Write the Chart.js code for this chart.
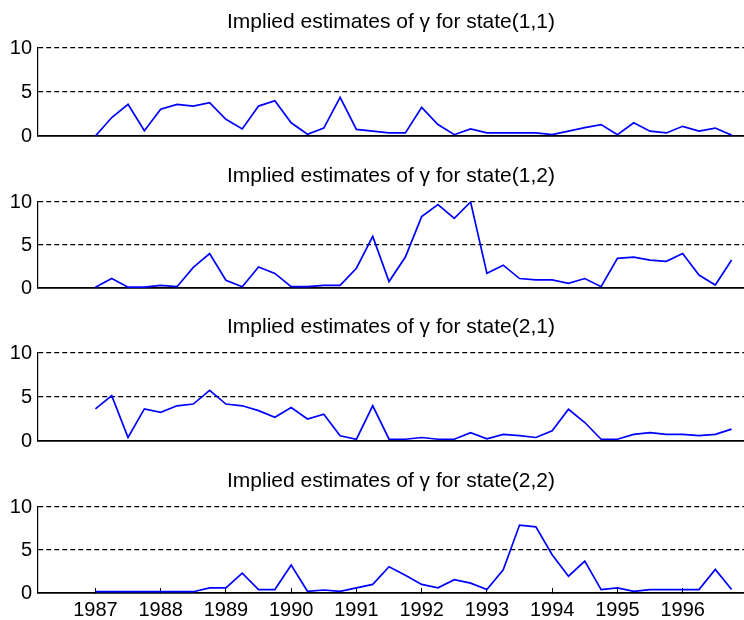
<!DOCTYPE html>
<html>
<head>
<meta charset="utf-8">
<script src="https://cdn.jsdelivr.net/npm/chart.js@4"></script>
<style>
  html, body { margin: 0; padding: 0; background: #fff; }
  #wrap { position: relative; width: 744px; height: 620px; overflow: hidden; }
  .panel { position: absolute; left: 0; width: 744px; }
</style>
</head>
<body>
<div id="wrap">
  <div class="panel" style="top:0px;height:154px"><canvas id="c11"></canvas></div>
  <div class="panel" style="top:154px;height:152px"><canvas id="c12"></canvas></div>
  <div class="panel" style="top:305px;height:154px"><canvas id="c21"></canvas></div>
  <div class="panel" style="top:459px;height:161px"><canvas id="c22"></canvas></div>
</div>
<script>
// quarterly observations, 1987Q1 .. 1996Q4
const quarters = [];
for (let i = 0; i < 40; i++) quarters.push(1987 + i * 0.25);

const yearTicks = [1987, 1988, 1989, 1990, 1991, 1992, 1993, 1994, 1995, 1996];
const yTicks = [0, 5, 10];
const titles = ['state(1,1)', 'state(1,2)', 'state(2,1)', 'state(2,2)'];

const gamma11 = [0, 2.1, 3.6, 0.6, 3.05, 3.6, 3.4, 3.8, 1.9, 0.8,
  3.4, 4.0, 1.5, 0.2, 0.9, 4.4, 0.75, 0.55, 0.35, 0.35,
  3.25, 1.3, 0.15, 0.8, 0.35, 0.35, 0.35, 0.35, 0.15, 0.55,
  0.95, 1.3, 0.15, 1.5, 0.55, 0.35, 1.1, 0.55, 0.9, 0.1];
const gamma12 = [0.1, 1.1, 0.1, 0.1, 0.3, 0.15, 2.4, 4.0, 0.9, 0.15,
  2.45, 1.7, 0.15, 0.15, 0.3, 0.3, 2.3, 6.0, 0.75, 3.6,
  8.3, 9.7, 8.1, 10.0, 1.7, 2.65, 1.1, 0.95, 0.95, 0.55,
  1.1, 0.15, 3.45, 3.6, 3.25, 3.1, 4.0, 1.5, 0.35, 3.25];
const gamma21 = [3.65, 5.15, 0.4, 3.65, 3.25, 4.0, 4.2, 5.75, 4.2, 4.0,
  3.45, 2.7, 3.8, 2.5, 3.05, 0.6, 0.2, 4.0, 0.2, 0.2,
  0.4, 0.2, 0.2, 0.95, 0.25, 0.75, 0.6, 0.4, 1.15, 3.6,
  2.1, 0.2, 0.2, 0.75, 0.95, 0.75, 0.75, 0.6, 0.75, 1.35];
const gamma22 = [0.15, 0.15, 0.15, 0.15, 0.15, 0.15, 0.15, 0.6, 0.6, 2.3,
  0.4, 0.4, 3.25, 0.2, 0.35, 0.2, 0.6, 1.0, 3.05, 2.05,
  1.0, 0.6, 1.55, 1.15, 0.4, 2.7, 7.9, 7.7, 4.45, 1.95,
  3.7, 0.4, 0.6, 0.2, 0.4, 0.4, 0.4, 0.4, 2.75, 0.4];

const FONT = 'Liberation Sans, Arial, Helvetica, sans-serif';

function makePanel(id, values, state, showYears) {
  const ctx = document.getElementById(id).getContext('2d');
  return new Chart(ctx, {
    type: 'line',
    data: {
      datasets: [{
        data: quarters.map((q, i) => ({ x: q, y: values[i] })),
        borderColor: '#0000ff',
        borderWidth: 1.7,
        pointRadius: 0,
        tension: 0,
        fill: false
      }]
    },
    options: {
      responsive: true,
      maintainAspectRatio: false,
      animation: false,
      layout: { padding: 0 },
      plugins: {
        legend: { display: false },
        tooltip: { enabled: false },
        title: {
          display: true,
          fullSize: false,
          text: 'Implied estimates of \u03b3 for ' + state,
          color: '#000',
          font: { family: FONT, size: 21, weight: 'normal' },
          padding: { top: 10, bottom: 12.8 }
        }
      },
      scales: {
        x: {
          type: 'linear',
          min: 1986.12,
          max: 1996.94,
          afterFit: s => { s.height = showYears ? 27 : 2; },
          afterBuildTicks: s => { s.ticks = yearTicks.map(v => ({ value: v })); },
          ticks: {
            display: showYears,
            color: '#000',
            font: { family: FONT, size: 20 },
            padding: 10,
            maxRotation: 0,
            autoSkip: false,
            callback: v => String(v)
          },
          grid: {
            display: showYears,
            drawOnChartArea: false,
            drawTicks: true,
            tickLength: -5,
            color: '#000',
            lineWidth: 1
          },
          border: { display: true, color: '#000', width: 1.8 }
        },
        y: {
          min: 0,
          max: 10,
          afterFit: s => { s.width = 38; },
          afterBuildTicks: s => { s.ticks = yTicks.map(v => ({ value: v })); },
          ticks: {
            color: '#000',
            font: { family: FONT, size: 20 },
            padding: 6
          },
          grid: {
            drawTicks: false,
            color: c => (c.tick && c.tick.value === 0) ? 'rgba(0,0,0,0)' : '#000',
            lineWidth: 1.2
          },
          border: { display: true, color: '#000', width: 1.2, dash: [5, 3] }
        }
      }
    }
  });
}

makePanel('c11', gamma11, titles[0], false);
makePanel('c12', gamma12, titles[1], false);
makePanel('c21', gamma21, titles[2], false);
makePanel('c22', gamma22, titles[3], true);
</script>
</body>
</html>
